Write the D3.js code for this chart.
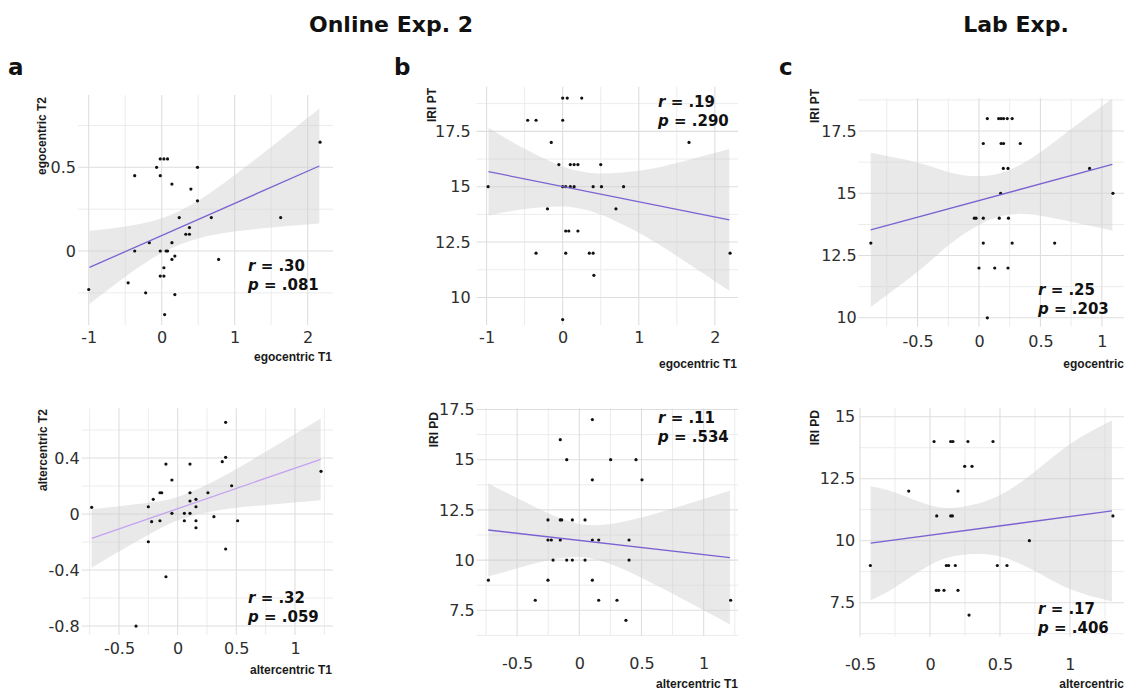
<!DOCTYPE html>
<html>
<head>
<meta charset="utf-8">
<script src="https://cdn.jsdelivr.net/npm/d3@7"></script>
<style>
body { margin: 0; background: #fff; }
.tick text { font-family: "DejaVu Sans", Verdana, sans-serif; font-size: 16px; fill: #2e2e2e; }
.ttl { font-family: "Liberation Sans", Arial, sans-serif; font-weight: bold; font-size: 12px; fill: #1a1a1a; }
.stat { font-family: "DejaVu Sans", Verdana, sans-serif; font-weight: bold; font-size: 15px; fill: #111; white-space: pre; }
.head { font-family: "DejaVu Sans", Verdana, sans-serif; font-weight: bold; fill: #111; }
</style>
</head>
<body>
<div id="fig"></div>
<script>
// ---- data ----
// Online Exp. 2: egocentric T1 vs egocentric T2
const egoT1 = [-1.0, -0.46, -0.37, -0.37, -0.22, -0.17, -0.07, -0.02, 0.03, 0.08, -0.02, -0.02, -0.02, 0.03, 0.03, 0.04, 0.06, 0.08, 0.14, 0.14, 0.14, 0.18, 0.18, 0.24, 0.33, 0.38, 0.38, 0.4, 0.49, 0.49, 0.68, 0.78, 1.63, 2.17]
const egoT2 = [-0.23, -0.19, 0.45, 0, -0.25, 0.05, 0.5, 0.55, 0.55, 0.55, 0.45, 0, -0.15, -0.15, -0.1, -0.38, 0, 0, 0.4, 0.05, -0.05, -0.03, -0.26, 0.2, 0.1, 0.1, 0.14, 0.37, 0.3, 0.5, 0.2, -0.05, 0.2, 0.65]
const egoFitX = [-0.99, 2.16], egoFitY = [-0.098, 0.508]
const egoBandX = [-0.99, -0.5, 0, 0.5, 1, 1.5, 2.16]
const egoBandLo = [-0.316, -0.154, -0.012, 0.075, 0.116, 0.14, 0.164]
const egoBandHi = [0.12, 0.146, 0.196, 0.301, 0.454, 0.622, 0.852]

// Online Exp. 2: egocentric T1 vs IRI PT
const egoT1b = [-0.98, -0.46, -0.35, -0.35, -0.2, -0.15, -0.05, 0, 0, 0.06, 0, 0.04, 0.1, 0.15, 0, 0.04, 0.08, 0.04, 0.1, 0.15, 0.2, 0.2, 0.25, 0.35, 0.4, 0.4, 0.41, 0.5, 0.51, 0.7, 0.8, 1.66, 2.2]
const iriPTb = [15, 18, 18, 12, 14, 17, 16, 18, 19, 19, 15, 15, 15, 15, 9, 13, 13, 12, 16, 16, 16, 13, 19, 12, 12, 15, 11, 16, 15, 14, 15, 17, 12]
const ptFitX = [-0.975, 2.19], ptFitY = [15.68, 13.5]
const ptBandX = [-0.975, -0.5, 0, 0.25, 0.5, 1, 1.5, 2.19]
const ptBandLo = [13.7, 13.99, 14.11, 13.99, 13.74, 12.92, 11.87, 10.3]
const ptBandHi = [17.66, 16.71, 15.91, 15.69, 15.6, 15.72, 16.07, 16.7]

// Lab Exp.: egocentric vs IRI PT
const egoLab = [-0.88, -0.038, -0.024, 0.035, 0.165, 0.24, 0, 0.128, 0.236, 0.035, 0.27, 0.616, 0.068, 0.16, 0.18, 0.2, 0.23, 0.27, 0.068, 0.035, 0.18, 0.2, 0.336, 0.198, 0.236, 0.9, 0.176, 1.09]
const iriPTc = [13, 14, 14, 14, 14, 14, 12, 12, 12, 13, 13, 13, 18, 18, 18, 18, 18, 18, 10, 17, 17, 17, 17, 16, 16, 16, 15, 15]
const labPtFitX = [-0.881, 1.085], labPtFitY = [13.53, 16.16]
const labPtBandX = [-0.881, -0.48, -0.236, 0.008, 0.252, 0.496, 0.767, 1.085]
const labPtBandLo = [10.43, 11.93, 12.96, 13.75, 14.15, 14.1, 13.84, 13.51]
const labPtBandHi = [16.63, 16.21, 15.84, 15.69, 15.95, 16.64, 17.64, 18.81]

// Online Exp. 2: altercentric T1 vs altercentric T2
const altT1 = [-0.733, -0.25, -0.25, -0.222, -0.208, -0.151, -0.136, -0.151, -0.1, -0.1, -0.049, -0.049, -0.355, 0.057, 0.057, 0.105, 0.105, 0.105, 0.105, 0.156, 0.156, 0.156, 0.156, 0.258, 0.309, 0.38, 0.409, 0.409, 0.409, 0.46, 0.511, 1.222]
const altT2 = [0.048, 0.052, -0.198, -0.055, 0.105, 0.152, 0.152, -0.048, 0.357, -0.448, 0.243, 0.005, -0.8, 0.005, -0.048, 0.357, 0.152, 0.093, 0.005, 0.105, 0.052, -0.048, -0.098, 0.152, -0.019, 0.374, 0.655, 0.405, -0.25, 0.202, -0.048, 0.305]
const altFitX = [-0.733, 1.219], altFitY = [-0.174, 0.391]
const altBandX = [-0.733, -0.492, -0.236, -0.066, 0.105, 0.361, 0.702, 1.219]
const altBandLo = [-0.384, -0.264, -0.142, -0.068, -0.017, 0.028, 0.061, 0.099]
const altBandHi = [0.036, 0.056, 0.082, 0.106, 0.155, 0.258, 0.421, 0.683]

// Online Exp. 2: altercentric T1 vs IRI PD
const altT1b = [0.105, -0.153, -0.101, 0.252, 0.456, 0.105, 0.504, -0.252, -0.153, -0.142, -0.056, 0.046, -0.252, -0.225, -0.153, 0.105, 0.156, 0.4, -0.211, -0.101, -0.056, 0.046, 0.4, -0.731, -0.252, 0.105, -0.354, 0.156, 0.303, 1.217, 0.375]
const iriPDb = [17, 16, 15, 15, 15, 14, 14, 12, 12, 12, 12, 12, 11, 11, 11, 11, 11, 11, 10, 10, 10, 10, 10, 9, 9, 9, 8, 8, 8, 8, 7]
const pdFitX = [-0.732, 1.211], pdFitY = [11.5, 10.12]
const pdBandX = [-0.732, -0.503, -0.249, -0.021, 0.14, 0.354, 0.703, 1.211]
const pdBandLo = [9.18, 9.58, 9.99, 10.15, 10.02, 9.55, 8.48, 6.79]
const pdBandHi = [13.82, 13.1, 12.33, 11.83, 11.74, 11.91, 12.48, 13.45]

// Lab Exp.: altercentric vs IRI PD
const altLab = [0.029, 0.148, 0.164, 0.271, 0.45, 0.248, 0.3, -0.152, 0.2, 0.048, 0.148, 0.16, 1.307, 0.71, -0.426, 0.117, 0.133, 0.181, 0.481, 0.55, 0.045, 0.062, 0.1, 0.2, 0.279]
const iriPDc = [14, 14, 14, 14, 14, 13, 13, 12, 12, 11, 11, 11, 11, 10, 9, 9, 9, 9, 9, 9, 8, 8, 8, 8, 7]
const labPdFitX = [-0.424, 1.3], labPdFitY = [9.9, 11.2]
const labPdBandX = [-0.424, -0.252, -0.002, 0.224, 0.486, 0.748, 1.009, 1.3]
const labPdBandLo = [7.6, 8.11, 9.01, 9.42, 9.38, 8.78, 8.03, 7.55]
const labPdBandHi = [12.2, 11.95, 11.43, 11.36, 11.8, 12.78, 13.93, 14.85]

// ticks and annotations
const xTicksWide = [-1, 0, 1, 2]
const xTicksHalf = [-0.5, 0, 0.5, 1]
const yTicksEgo = [0, 0.5]
const yTicksAlt = [-0.8, -0.4, 0, 0.4]
const yTicksPT = [10, 12.5, 15, 17.5]
const yTicksPDb = [7.5, 10, 12.5, 15, 17.5]
const yTicksPDc = [7.5, 10, 12.5, 15]
const rVals = [".30", ".19", ".25", ".32", ".11", ".17"]
const pVals = [".081", ".290", ".203", ".059", ".534", ".406"]

// ---- layout ----
const width = 1132, height = 692

const svg = d3.select("#fig").append("svg")
    .attr("width", width)
    .attr("height", height)
    .style("display", "block")

const panels = [
  {xs: egoT1, ys: egoT2, fx: egoFitX, fy: egoFitY, bx: egoBandX, lo: egoBandLo, hi: egoBandHi,
   l: 78, r: 333, t: 95, b: 325, xDom: [-1.147, 2.347], yDom: [-0.442, 0.932],
   xTicks: xTicksWide, yTicks: yTicksEgo, xPad: 6.5, yPad: 2,
   xTitle: "egocentric T1", xTitleX: 332, xTitleY: 361, yTitle: "egocentric T2", yTitleX: 46, yTitleY: 97,
   statX: 248, statY: 271, line: "#7b61d1"},
  {xs: egoT1b, ys: iriPTb, fx: ptFitX, fy: ptFitY, bx: ptBandX, lo: ptBandLo, hi: ptBandHi,
   l: 476.7, r: 738, t: 86.7, b: 325, xDom: [-1.13, 2.304], yDom: [8.756, 19.515],
   xTicks: xTicksWide, yTicks: yTicksPT, xPad: 6.5, yPad: 6,
   xTitle: "egocentric T1", xTitleX: 737, xTitleY: 368, yTitle: "IRI PT", yTitleX: 436, yTitleY: 88,
   statX: 658, statY: 107, line: "#7b61d1"},
  {xs: egoLab, ys: iriPTc, fx: labPtFitX, fy: labPtFitY, bx: labPtBandX, lo: labPtBandLo, hi: labPtBandHi,
   l: 858.3, r: 1124, t: 98.3, b: 326.7, xDom: [-0.982, 1.18], yDom: [9.643, 18.815],
   xTicks: xTicksHalf, yTicks: yTicksPT, xPad: 8.5, yPad: 1.5,
   xTitle: "egocentric", xTitleX: 1124, xTitleY: 368, yTitle: "IRI PT", yTitleX: 819, yTitleY: 89,
   statX: 1038, statY: 295, line: "#7b61d1"},
  {xs: altT1, ys: altT2, fx: altFitX, fy: altFitY, bx: altBandX, lo: altBandLo, hi: altBandHi,
   l: 81.7, r: 333, t: 408.3, b: 635, xDom: [-0.818, 1.324], yDom: [-0.864, 0.755],
   xTicks: xTicksHalf, yTicks: yTicksAlt, xPad: 7.5, yPad: 2,
   xTitle: "altercentric T1", xTitleX: 332, xTitleY: 674, yTitle: "altercentric T2", yTitleX: 47, yTitleY: 409,
   statX: 248, statY: 603, line: "#c6a2f1"},
  {xs: altT1b, ys: iriPDb, fx: pdFitX, fy: pdFitY, bx: pdBandX, lo: pdBandLo, hi: pdBandHi,
   l: 476.7, r: 738, t: 408.3, b: 636, xDom: [-0.825, 1.276], yDom: [6.219, 17.561],
   xTicks: xTicksHalf, yTicks: yTicksPDb, xPad: 22, yPad: 2,
   xTitle: "altercentric T1", xTitleX: 738, xTitleY: 688, yTitle: "IRI PD", yTitleX: 437.5, yTitleY: 412,
   statX: 658, statY: 423, line: "#7b61d1"},
  {xs: altLab, ys: iriPDc, fx: labPdFitX, fy: labPdFitY, bx: labPdBandX, lo: labPdBandLo, hi: labPdBandHi,
   l: 859.3, r: 1124, t: 408, b: 636.7, xDom: [-0.505, 1.386], yDom: [6.129, 15.351],
   xTicks: xTicksHalf, yTicks: yTicksPDc, xPad: 22, yPad: 4,
   xTitle: "altercentric", xTitleX: 1124, xTitleY: 688, yTitle: "IRI PD", yTitleX: 819, yTitleY: 410,
   statX: 1038, statY: 614, line: "#7b61d1"}
]

// midpoints between major ticks, one step past each end
function minorTicks(ticks, dom) {
    const st = ticks[1] - ticks[0]
    return d3.range(ticks.length + 1)
        .map(i => ticks[0] - st / 2 + i * st)
        .filter(v => v > dom[0] && v < dom[1])
}

function drawPanel(p, i) {
    const x = d3.scaleLinear().domain(p.xDom).range([p.l, p.r])
    const y = d3.scaleLinear().domain(p.yDom).range([p.b, p.t])
    const g = svg.append("g")

    // grid
    const grid = g.append("g")
    grid.selectAll(".vminor").data(minorTicks(p.xTicks, p.xDom)).join("line")
        .attr("x1", d => x(d)).attr("x2", d => x(d)).attr("y1", p.t).attr("y2", p.b)
        .attr("stroke", "#ececec").attr("stroke-width", 1)
    grid.selectAll(".hminor").data(minorTicks(p.yTicks, p.yDom)).join("line")
        .attr("y1", d => y(d)).attr("y2", d => y(d)).attr("x1", p.l).attr("x2", p.r)
        .attr("stroke", "#ececec").attr("stroke-width", 1)
    grid.selectAll(".vmajor").data(p.xTicks).join("line")
        .attr("x1", d => x(d)).attr("x2", d => x(d)).attr("y1", p.t).attr("y2", p.b)
        .attr("stroke", "#dedede").attr("stroke-width", 1.1)
    grid.selectAll(".hmajor").data(p.yTicks).join("line")
        .attr("y1", d => y(d)).attr("y2", d => y(d)).attr("x1", p.l).attr("x2", p.r)
        .attr("stroke", "#dedede").attr("stroke-width", 1.1)

    // confidence band
    const band = p.bx.map((v, k) => ({x: v, lo: p.lo[k], hi: p.hi[k]}))
    g.append("path")
        .datum(band)
        .attr("fill", "#cfcfcf")
        .attr("fill-opacity", 0.45)
        .attr("d", d3.area().curve(d3.curveNatural)
            .x(d => x(d.x)).y0(d => y(d.lo)).y1(d => y(d.hi)))

    // points
    g.append("g").selectAll("circle")
        .data(p.xs.map((v, k) => [v, p.ys[k]]))
        .join("circle")
        .attr("cx", d => x(d[0]))
        .attr("cy", d => y(d[1]))
        .attr("r", 1.6)
        .attr("fill", "#111")

    // fitted line
    g.append("path")
        .datum(p.fx.map((v, k) => [v, p.fy[k]]))
        .attr("fill", "none")
        .attr("stroke", p.line)
        .attr("stroke-width", 1.3)
        .attr("d", d3.line().x(d => x(d[0])).y(d => y(d[1])))

    // axes (labels only)
    g.append("g")
        .attr("transform", `translate(0,${p.b})`)
        .call(d3.axisBottom(x).tickValues(p.xTicks).tickSize(0).tickPadding(p.xPad).tickFormat(d => String(d)))
        .call(a => a.select(".domain").remove())
    g.append("g")
        .attr("transform", `translate(${p.l},0)`)
        .call(d3.axisLeft(y).tickValues(p.yTicks).tickSize(0).tickPadding(p.yPad).tickFormat(d => String(d)))
        .call(a => a.select(".domain").remove())

    // axis titles
    g.append("text").attr("class", "ttl")
        .attr("x", p.xTitleX).attr("y", p.xTitleY)
        .attr("text-anchor", "end")
        .text(p.xTitle)
    g.append("text").attr("class", "ttl")
        .attr("transform", `translate(${p.yTitleX},${p.yTitleY}) rotate(-90)`)
        .attr("text-anchor", "end")
        .text(p.yTitle)

    // r and p
    const r = g.append("text").attr("class", "stat").attr("x", p.statX).attr("y", p.statY)
    r.append("tspan").style("font-style", "italic").text("r")
    r.append("tspan").text(" = " + rVals[i])
    const pv = g.append("text").attr("class", "stat").attr("x", p.statX).attr("y", p.statY + 18.5)
    pv.append("tspan").style("font-style", "italic").text("p")
    pv.append("tspan").text(" = " + pVals[i])
}

panels.forEach(drawPanel)

// headings and panel letters
svg.append("text").attr("class", "head")
    .attr("x", 391).attr("y", 32)
    .attr("text-anchor", "middle")
    .style("font-size", "22px")
    .text("Online Exp. 2")
svg.append("text").attr("class", "head")
    .attr("x", 1016).attr("y", 32)
    .attr("text-anchor", "middle")
    .style("font-size", "22px")
    .text("Lab Exp.")

const letters = [["a", 8], ["b", 394], ["c", 779]]
svg.selectAll(".letter").data(letters).join("text")
    .attr("class", "head")
    .attr("x", d => d[0] === "a" ? d[1] : d[1])
    .attr("y", 75)
    .style("font-size", "23px")
    .text(d => d[0])
</script>
</body>
</html>
